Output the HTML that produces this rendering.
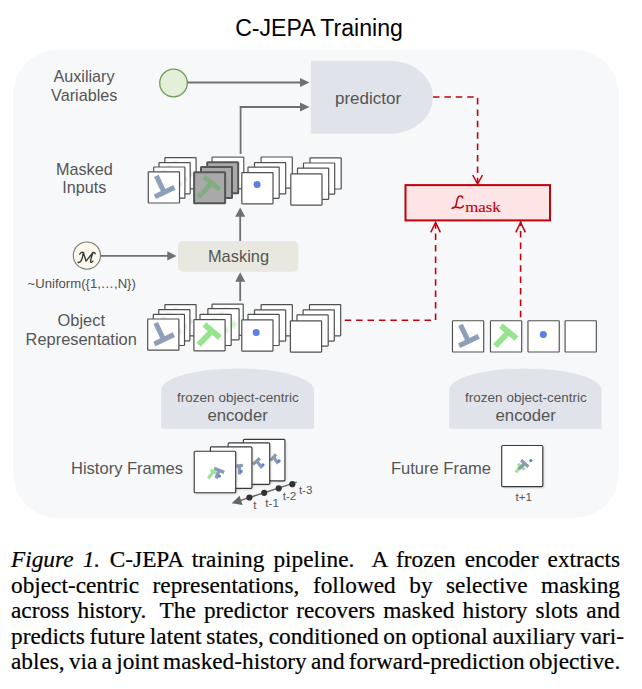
<!DOCTYPE html>
<html><head><meta charset="utf-8">
<style>
html,body{margin:0;padding:0;background:#fff;width:642px;height:689px;overflow:hidden;}
svg{position:absolute;left:0;top:0;}
text{font-family:"Liberation Sans",sans-serif;}
.lbl{fill:#555;font-size:16.2px;}
#cap{position:absolute;left:11px;top:547px;width:609px;font-family:"Liberation Serif",serif;font-size:23.3px;-webkit-text-stroke:0.2px #000;line-height:25.5px;text-align:justify;color:#000;}
#cap i{font-style:italic;}
#cap div{white-space:nowrap;height:25.5px;}
#cap .j{text-align:justify;text-align-last:justify;white-space:normal;}
</style></head><body>
<svg width="642" height="540" viewBox="0 0 642 540">
<defs>
<filter id="bl" x="-50%" y="-50%" width="200%" height="200%"><feGaussianBlur stdDeviation="0.9"/></filter>
<filter id="sh" x="-20%" y="-20%" width="140%" height="140%"><feGaussianBlur stdDeviation="1"/></filter>
</defs>
<!-- panel -->
<rect x="13" y="50" width="606" height="468" rx="45" ry="45" fill="#f7f8fa"/>
<!-- title -->
<text x="319" y="35.9" text-anchor="middle" style="font-size:23.1px;fill:#000">C-JEPA Training</text>

<!-- left labels -->
<g class="lbl" text-anchor="middle">
<text x="84" y="81.7">Auxiliary</text>
<text x="84.2" y="101.4">Variables</text>
<text x="84.3" y="174.6">Masked</text>
<text x="84.3" y="193.1">Inputs</text>
<text x="81.3" y="325.5" style="font-size:16.4px">Object</text>
<text x="81.2" y="345.3" style="font-size:16.4px">Representation</text>
<text x="127" y="474.3" style="font-size:16.55px">History Frames</text>
<text x="441" y="473.7" style="font-size:16.55px">Future Frame</text>
</g>
<text transform="translate(81.7,288.2) scale(0.96,1)" x="0" y="0" text-anchor="middle" style="font-size:13.7px;fill:#505050">~Uniform({1,…,N})</text>

<!-- aux circle -->
<circle cx="173.5" cy="83" r="13.8" fill="#e3efd9" stroke="#6f9a55" stroke-width="1.3"/>

<!-- grey arrows -->
<g stroke="#707070" stroke-width="1.8" fill="none">
<line x1="187.3" y1="82.5" x2="301" y2="82.5"/>
<polyline points="240.6,154 240.6,107 301,107"/>
<line x1="240.2" y1="241" x2="240.2" y2="216"/>
<line x1="240.2" y1="301" x2="240.2" y2="281"/>
<line x1="101" y1="255.9" x2="168" y2="255.9"/>
</g>
<g fill="#707070">
<path d="M309.5,82.5 L300,78 L300,87 Z"/>
<path d="M309.5,107 L300,102.5 L300,111.5 Z"/>
<path d="M240.2,207.5 L235.2,216.8 L245.2,216.8 Z"/>
<path d="M240.2,272.3 L235.2,281.8 L245.2,281.8 Z"/>
<path d="M176.5,255.9 L167.3,251.3 L167.3,260.5 Z"/>
</g>

<!-- predictor -->
<path d="M310.8,60.7 L390,60.7 A43,36.5 0 0 1 390,133.7 L310.8,133.7 Z" fill="#e1e3ea"/>
<text x="368" y="103.75" text-anchor="middle" style="font-size:17px;fill:#555">predictor</text>

<!-- red dashed -->
<g stroke="#c2000e" stroke-width="1.6" fill="none" stroke-dasharray="6.5 4.9">
<polyline points="433,97 477.6,97 477.6,183"/>
<polyline points="344.7,320.2 435.6,320.2 435.6,223"/>
<line x1="520.6" y1="317.3" x2="520.6" y2="221.5"/>
</g>
<g stroke="#c2000e" stroke-width="1.5" fill="none">
<polyline points="472.7,175 477.6,184 482.5,175"/>
<polyline points="430.8,232.3 435.6,222.5 440.4,232.3"/>
<polyline points="515.8,232.3 520.6,222.5 525.4,232.3"/>
</g>
<rect x="405.5" y="185.1" width="144.5" height="35.3" fill="#fde5e5" stroke="#c2000e" stroke-width="2"/>
<path transform="translate(448,192) scale(0.03115)" d="M470,195 C470,150 430,122 385,130 C325,140 300,205 288,280 C276,355 268,415 240,462 C215,500 175,525 130,522 M150,510 C200,470 265,478 325,500 C385,522 445,528 495,445" fill="none" stroke="#c2000e" stroke-width="48" stroke-linecap="round"/>
<text transform="translate(465.2,212.4) scale(1.11,1)" x="0" y="0" style="font-family:'Liberation Serif',serif;font-size:15.2px;fill:#c2000e;stroke:#c2000e;stroke-width:0.12px">mask</text>
<!-- masking box -->
<rect x="178" y="241" width="120.4" height="30.7" rx="5" fill="#e9e8e0"/>
<text x="238.5" y="262" text-anchor="middle" style="font-size:16.4px;fill:#555">Masking</text>

<!-- M circle -->
<circle cx="86.9" cy="255.6" r="13.6" fill="#fdf9ec" stroke="#7a7a7a" stroke-width="1.1"/>
<path transform="translate(72,241) scale(0.04673)" d="M130,455 C170,475 205,425 225,340 C235,290 240,262 245,250 M165,280 C190,240 230,232 250,250 M245,250 L300,430 L450,245 M450,245 C420,320 400,400 395,440 C395,468 428,462 448,432 M450,245 C472,238 492,255 495,272" fill="none" stroke="#3a3a3a" stroke-width="30" stroke-linecap="round" stroke-linejoin="round"/>
<!-- encoders -->
<path d="M161.2,428.7 L161.2,390 A76.4,21.6 0 0 1 314,390 L314,428.7 Z" fill="#e1e3ea"/>
<text x="237.9" y="401.5" text-anchor="middle" style="font-size:13.5px;fill:#555">frozen object-centric</text>
<text x="237.6" y="421" text-anchor="middle" style="font-size:16.7px;fill:#555">encoder</text>
<path d="M449.2,428.7 L449.2,390 A76.2,21.6 0 0 1 601.6,390 L601.6,428.7 Z" fill="#e1e3ea"/>
<text x="525.9" y="401.5" text-anchor="middle" style="font-size:13.5px;fill:#555">frozen object-centric</text>
<text x="525.75" y="421" text-anchor="middle" style="font-size:16.7px;fill:#555">encoder</text>

<g style="font-size:11.6px;fill:#555">
<text x="253.3" y="509.3">t</text>
<text x="265.3" y="506.6">t-1</text>
<text x="282.7" y="499.9">t-2</text>
<text x="298.9" y="494.4">t-3</text>
<text x="515.6" y="500.9">t+1</text>
</g>
<g id="stacks"><rect x="164.90" y="157.60" width="31.20" height="31.20" fill="#fff" stroke="#505050" stroke-width="1.2" rx="0.5"/>
<g opacity="0.4" filter="url(#bl)"><line x1="172.50" y1="182.60" x2="192.10" y2="173.20" stroke="#8e9fba" stroke-width="5.1" stroke-linecap="butt" /><line x1="173.90" y1="161.60" x2="181.10" y2="176.60" stroke="#8e9fba" stroke-width="5.1" stroke-linecap="butt" /></g>
<rect x="159.00" y="162.60" width="31.20" height="31.20" fill="#fff" stroke="#505050" stroke-width="1.2" rx="0.5"/>
<g opacity="0.4" filter="url(#bl)"><line x1="166.60" y1="187.60" x2="186.20" y2="178.20" stroke="#8e9fba" stroke-width="5.1" stroke-linecap="butt" /><line x1="168.00" y1="166.60" x2="175.20" y2="181.60" stroke="#8e9fba" stroke-width="5.1" stroke-linecap="butt" /></g>
<rect x="153.70" y="167.00" width="31.20" height="31.20" fill="#fff" stroke="#505050" stroke-width="1.2" rx="0.5"/>
<g opacity="0.4" filter="url(#bl)"><line x1="161.30" y1="192.00" x2="180.90" y2="182.60" stroke="#8e9fba" stroke-width="5.1" stroke-linecap="butt" /><line x1="162.70" y1="171.00" x2="169.90" y2="186.00" stroke="#8e9fba" stroke-width="5.1" stroke-linecap="butt" /></g>
<rect x="148.30" y="171.80" width="31.20" height="31.20" fill="#fff" stroke="#505050" stroke-width="1.2" rx="0.5"/>
<line x1="154.90" y1="196.80" x2="174.50" y2="187.40" stroke="#8e9fba" stroke-width="5.1" stroke-linecap="butt" /><line x1="156.30" y1="175.80" x2="163.50" y2="190.80" stroke="#8e9fba" stroke-width="5.1" stroke-linecap="butt" />
<rect x="212.05" y="157.05" width="31.70" height="31.70" fill="#fff" stroke="#666" stroke-width="1.3" rx="0.5"/>

<rect x="207.20" y="162.20" width="31.00" height="31.00" fill="#a9a9a9" stroke="#555" stroke-width="2" rx="0.5"/>
<g opacity="0.35" filter="url(#bl)"><line x1="217.20" y1="166.80" x2="232.80" y2="179.60" stroke="#80ad80" stroke-width="5.8" stroke-linecap="butt" /><line x1="224.60" y1="173.40" x2="211.50" y2="187.00" stroke="#80ad80" stroke-width="5.8" stroke-linecap="butt" /></g>
<rect x="201.00" y="167.10" width="31.00" height="31.00" fill="#a9a9a9" stroke="#555" stroke-width="2" rx="0.5"/>
<g opacity="0.35" filter="url(#bl)"><line x1="211.00" y1="171.70" x2="226.60" y2="184.50" stroke="#80ad80" stroke-width="5.8" stroke-linecap="butt" /><line x1="218.40" y1="178.30" x2="205.30" y2="191.90" stroke="#80ad80" stroke-width="5.8" stroke-linecap="butt" /></g>
<rect x="194.10" y="172.30" width="31.00" height="31.00" fill="#a9a9a9" stroke="#555" stroke-width="2" rx="0.5"/>
<line x1="204.10" y1="176.90" x2="219.70" y2="189.70" stroke="#80ad80" stroke-width="4.8" stroke-linecap="butt" /><line x1="211.50" y1="183.50" x2="198.40" y2="197.10" stroke="#80ad80" stroke-width="4.8" stroke-linecap="butt" />
<rect x="261.10" y="157.00" width="31.20" height="31.20" fill="#fff" stroke="#505050" stroke-width="1.2" rx="0.5"/>
<rect x="254.50" y="162.60" width="31.20" height="31.20" fill="#fff" stroke="#505050" stroke-width="1.2" rx="0.5"/>
<rect x="248.00" y="167.10" width="31.20" height="31.20" fill="#fff" stroke="#505050" stroke-width="1.2" rx="0.5"/>
<rect x="241.80" y="172.60" width="31.20" height="31.20" fill="#fff" stroke="#505050" stroke-width="1.2" rx="0.5"/>
<circle cx="257.10" cy="184.50" r="3.5" fill="#5b7fe6"/>
<rect x="310.00" y="157.80" width="31.20" height="31.20" fill="#fff" stroke="#505050" stroke-width="1.2" rx="0.5"/>
<rect x="303.50" y="163.00" width="31.20" height="31.20" fill="#fff" stroke="#505050" stroke-width="1.2" rx="0.5"/>
<rect x="297.50" y="168.10" width="31.20" height="31.20" fill="#fff" stroke="#505050" stroke-width="1.2" rx="0.5"/>
<rect x="290.80" y="173.90" width="31.20" height="31.20" fill="#fff" stroke="#505050" stroke-width="1.2" rx="0.5"/>

<rect x="164.90" y="304.60" width="31.20" height="31.20" fill="#fff" stroke="#505050" stroke-width="1.2" rx="0.5"/>
<g opacity="0.4" filter="url(#bl)"><line x1="172.50" y1="329.60" x2="192.10" y2="320.20" stroke="#8e9fba" stroke-width="5.1" stroke-linecap="butt" /><line x1="173.90" y1="308.60" x2="181.10" y2="323.60" stroke="#8e9fba" stroke-width="5.1" stroke-linecap="butt" /></g>
<rect x="158.70" y="309.60" width="31.20" height="31.20" fill="#fff" stroke="#505050" stroke-width="1.2" rx="0.5"/>
<g opacity="0.4" filter="url(#bl)"><line x1="166.30" y1="334.60" x2="185.90" y2="325.20" stroke="#8e9fba" stroke-width="5.1" stroke-linecap="butt" /><line x1="167.70" y1="313.60" x2="174.90" y2="328.60" stroke="#8e9fba" stroke-width="5.1" stroke-linecap="butt" /></g>
<rect x="153.30" y="314.30" width="31.20" height="31.20" fill="#fff" stroke="#505050" stroke-width="1.2" rx="0.5"/>
<g opacity="0.4" filter="url(#bl)"><line x1="160.90" y1="339.30" x2="180.50" y2="329.90" stroke="#8e9fba" stroke-width="5.1" stroke-linecap="butt" /><line x1="162.30" y1="318.30" x2="169.50" y2="333.30" stroke="#8e9fba" stroke-width="5.1" stroke-linecap="butt" /></g>
<rect x="147.70" y="319.00" width="31.20" height="31.20" fill="#fff" stroke="#505050" stroke-width="1.2" rx="0.5"/>
<line x1="154.30" y1="344.00" x2="173.90" y2="334.60" stroke="#8e9fba" stroke-width="5.1" stroke-linecap="butt" /><line x1="155.70" y1="323.00" x2="162.90" y2="338.00" stroke="#8e9fba" stroke-width="5.1" stroke-linecap="butt" />
<rect x="212.00" y="304.20" width="31.20" height="31.20" fill="#fff" stroke="#505050" stroke-width="1.2" rx="0.5"/>
<g opacity="0.45" filter="url(#bl)"><line x1="223.90" y1="309.20" x2="239.50" y2="322.00" stroke="#98e38f" stroke-width="5.8" stroke-linecap="butt" /><line x1="231.30" y1="315.80" x2="218.20" y2="329.40" stroke="#98e38f" stroke-width="5.8" stroke-linecap="butt" /></g>
<rect x="207.90" y="308.60" width="31.20" height="31.20" fill="#fff" stroke="#505050" stroke-width="1.2" rx="0.5"/>
<g opacity="0.45" filter="url(#bl)"><line x1="219.80" y1="313.60" x2="235.40" y2="326.40" stroke="#98e38f" stroke-width="5.8" stroke-linecap="butt" /><line x1="227.20" y1="320.20" x2="214.10" y2="333.80" stroke="#98e38f" stroke-width="5.8" stroke-linecap="butt" /></g>
<rect x="200.00" y="314.30" width="31.20" height="31.20" fill="#fff" stroke="#505050" stroke-width="1.2" rx="0.5"/>
<g opacity="0.45" filter="url(#bl)"><line x1="211.90" y1="319.30" x2="227.50" y2="332.10" stroke="#98e38f" stroke-width="5.8" stroke-linecap="butt" /><line x1="219.30" y1="325.90" x2="206.20" y2="339.50" stroke="#98e38f" stroke-width="5.8" stroke-linecap="butt" /></g>
<rect x="193.90" y="319.60" width="31.20" height="31.20" fill="#fff" stroke="#505050" stroke-width="1.2" rx="0.5"/>
<line x1="204.30" y1="324.60" x2="219.90" y2="337.40" stroke="#98e38f" stroke-width="5.8" stroke-linecap="butt" /><line x1="211.70" y1="331.20" x2="198.60" y2="344.80" stroke="#98e38f" stroke-width="5.8" stroke-linecap="butt" />
<rect x="261.10" y="304.60" width="31.20" height="31.20" fill="#fff" stroke="#505050" stroke-width="1.2" rx="0.5"/>
<rect x="254.50" y="309.90" width="31.20" height="31.20" fill="#fff" stroke="#505050" stroke-width="1.2" rx="0.5"/>
<rect x="248.00" y="314.30" width="31.20" height="31.20" fill="#fff" stroke="#505050" stroke-width="1.2" rx="0.5"/>
<rect x="241.80" y="319.90" width="31.20" height="31.20" fill="#fff" stroke="#505050" stroke-width="1.2" rx="0.5"/>
<circle cx="256.20" cy="332.60" r="3.5" fill="#5b7fe6"/>
<rect x="309.50" y="304.60" width="31.20" height="31.20" fill="#fff" stroke="#505050" stroke-width="1.2" rx="0.5"/>
<rect x="303.10" y="309.90" width="31.20" height="31.20" fill="#fff" stroke="#505050" stroke-width="1.2" rx="0.5"/>
<rect x="297.00" y="314.90" width="31.20" height="31.20" fill="#fff" stroke="#505050" stroke-width="1.2" rx="0.5"/>
<rect x="290.40" y="320.90" width="31.20" height="31.20" fill="#fff" stroke="#505050" stroke-width="1.2" rx="0.5"/>

<rect x="452.47" y="320.77" width="31.25" height="31.25" fill="#fff" stroke="#505050" stroke-width="1.15" rx="0.5"/>
<rect x="490.47" y="320.77" width="31.25" height="31.25" fill="#fff" stroke="#505050" stroke-width="1.15" rx="0.5"/>
<rect x="527.98" y="320.77" width="31.25" height="31.25" fill="#fff" stroke="#505050" stroke-width="1.15" rx="0.5"/>
<rect x="565.08" y="320.77" width="31.25" height="31.25" fill="#fff" stroke="#505050" stroke-width="1.15" rx="0.5"/>
<line x1="459.10" y1="345.80" x2="478.70" y2="336.40" stroke="#8e9fba" stroke-width="5.1" stroke-linecap="butt" /><line x1="460.50" y1="324.80" x2="467.70" y2="339.80" stroke="#8e9fba" stroke-width="5.1" stroke-linecap="butt" />
<line x1="500.90" y1="325.80" x2="516.50" y2="338.60" stroke="#98e38f" stroke-width="5.8" stroke-linecap="butt" /><line x1="508.30" y1="332.40" x2="495.20" y2="346.00" stroke="#98e38f" stroke-width="5.8" stroke-linecap="butt" />
<circle cx="543.30" cy="334.60" r="3.5" fill="#5b7fe6"/></g><!--end-->
<g id="hist"><rect x="244.60" y="440.60" width="41.5" height="41.5" rx="1" fill="#000" opacity="0.18" filter="url(#sh)"/>
<rect x="243.40" y="439.40" width="41.5" height="41.5" rx="1" fill="#fff" stroke="#3a3a3a" stroke-width="1.15"/>
<line x1="270.40" y1="460.50" x2="276.10" y2="454.40" stroke="#8a9ab0" stroke-width="3.2" stroke-linecap="butt" /><line x1="273.90" y1="457.50" x2="278.20" y2="463.60" stroke="#8a9ab0" stroke-width="3.2" stroke-linecap="butt" /><circle cx="279.10" cy="460.90" r="1.6" fill="#5b7fe6"/>
<rect x="229.40" y="444.00" width="41.5" height="41.5" rx="1" fill="#000" opacity="0.18" filter="url(#sh)"/>
<rect x="228.20" y="442.80" width="41.5" height="41.5" rx="1" fill="#fff" stroke="#3a3a3a" stroke-width="1.15"/>
<line x1="252.90" y1="464.40" x2="259.90" y2="458.30" stroke="#8a9ab0" stroke-width="3.2" stroke-linecap="butt" /><line x1="257.30" y1="461.80" x2="262.10" y2="467.90" stroke="#8a9ab0" stroke-width="3.2" stroke-linecap="butt" /><circle cx="263.00" cy="464.90" r="1.6" fill="#5b7fe6"/>
<rect x="211.60" y="448.00" width="41.5" height="41.5" rx="1" fill="#000" opacity="0.18" filter="url(#sh)"/>
<rect x="210.40" y="446.80" width="41.5" height="41.5" rx="1" fill="#fff" stroke="#3a3a3a" stroke-width="1.15"/>
<line x1="236.40" y1="466.20" x2="242.90" y2="465.30" stroke="#8a9ab0" stroke-width="3.2" stroke-linecap="butt" /><line x1="239.40" y1="466.20" x2="239.60" y2="474.50" stroke="#8a9ab0" stroke-width="3.2" stroke-linecap="butt" /><circle cx="241.20" cy="471.40" r="1.6" fill="#5b7fe6"/>
<rect x="195.40" y="452.40" width="41.5" height="41.5" rx="1" fill="#000" opacity="0.18" filter="url(#sh)"/>
<rect x="194.20" y="451.20" width="41.5" height="41.5" rx="1" fill="#fff" stroke="#3a3a3a" stroke-width="1.15"/>
<line x1="210.80" y1="469.60" x2="215.80" y2="473.40" stroke="#98e38f" stroke-width="3" stroke-linecap="butt" /><line x1="213.40" y1="471.60" x2="208.20" y2="478.30" stroke="#98e38f" stroke-width="3" stroke-linecap="butt" /><line x1="214.20" y1="468.40" x2="224.20" y2="472.40" stroke="#8a9ab0" stroke-width="3.4" stroke-linecap="butt" /><line x1="219.00" y1="470.40" x2="216.20" y2="478.40" stroke="#8a9ab0" stroke-width="3.4" stroke-linecap="butt" /><circle cx="219.40" cy="476.10" r="1.6" fill="#5b7fe6"/>
<line x1="296.8" y1="482.1" x2="240" y2="500.6" stroke="#666" stroke-width="1.5"/>
<path d="M231.7,503.3 L239.6,495.8 L242.6,505 Z" fill="#666"/>
<circle cx="249.40" cy="497.50" r="3.1" fill="#333"/>
<circle cx="264.20" cy="492.80" r="3.1" fill="#333"/>
<circle cx="278.70" cy="488.30" r="3.1" fill="#333"/>
<circle cx="292.30" cy="484.20" r="3.1" fill="#333"/>
<rect x="502.90" y="446.70" width="41.1" height="41.1" rx="1" fill="#000" opacity="0.18" filter="url(#sh)"/>
<rect x="501.70" y="445.50" width="41.1" height="41.1" rx="1" fill="#fff" stroke="#3a3a3a" stroke-width="1.15"/>
<line x1="517.90" y1="463.90" x2="524.70" y2="469.60" stroke="#98e38f" stroke-width="3" stroke-linecap="butt" /><line x1="520.30" y1="466.70" x2="515.80" y2="472.40" stroke="#98e38f" stroke-width="3" stroke-linecap="butt" />
<line x1="521.10" y1="460.20" x2="528.40" y2="466.70" stroke="#8a9ab0" stroke-width="3.2" stroke-linecap="butt" /><line x1="524.70" y1="463.50" x2="518.70" y2="469.10" stroke="#8a9ab0" stroke-width="3.2" stroke-linecap="butt" />
<circle cx="530.80" cy="460.60" r="1.6" fill="#5b7fe6"/></g><!--endh-->
</svg>
<div id="cap">
<div class="j"><i>Figure 1.</i> <span style="margin-left:0.5px">C-JEPA</span> training pipeline. <span style="margin-left:8px">A</span> frozen encoder extracts</div>
<div class="j">object-centric representations, followed by selective masking</div>
<div class="j">across history. <span style="margin-left:5px">The</span> predictor recovers masked history slots and</div>
<div class="j" style="width:613px;word-spacing:-3px">predicts future latent states, conditioned on optional auxiliary vari-</div>
<div style="word-spacing:-1.6px">ables, via a joint masked-history and forward-prediction objective.</div>
</div>
</body></html>
